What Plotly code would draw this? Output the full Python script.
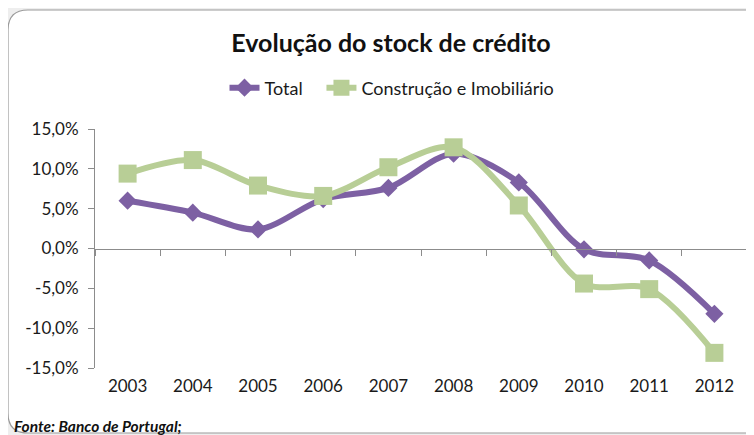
import plotly.graph_objects as go

years = ["2003", "2004", "2005", "2006", "2007", "2008", "2009", "2010", "2011", "2012"]
total = [6.0, 4.5, 2.4, 6.2, 7.6, 11.9, 8.3, -0.1, -1.5, -8.2]
construcao = [9.4, 11.1, 7.9, 6.6, 10.2, 12.7, 5.4, -4.4, -5.1, -13.1]
y_ticks = [-15, -10, -5, 0, 5, 10, 15]
y_ticktext = ["-15,0%", "-10,0%", "-5,0%", "0,0%", "5,0%", "10,0%", "15,0%"]

PURPLE = "#7D60A3"
GREEN = "#B8CE96"
FONT = "Lato"

OFF = 8  # page body margin offset
W, H = 754 - OFF, 435 - OFF
L, R, T = 95 - OFF, 7, 129 - OFF
B = H - (368 - OFF)
pw, ph = W - L - R, H - T - B

def px(x):
    return (x - OFF - L) / pw

def py(y):
    return (H - B - (y - OFF)) / ph

fig = go.Figure()
fig.add_trace(go.Scatter(
    x=years, y=total, name="Total\u00a0\u00a0\u00a0", mode="lines+markers",
    line=dict(color=PURPLE, width=6, shape="spline", smoothing=0.9),
    marker=dict(symbol="diamond", size=14, color=PURPLE),
))
fig.add_trace(go.Scatter(
    x=years, y=construcao, name="Construção e Imobiliário", mode="lines+markers",
    line=dict(color=GREEN, width=6, shape="spline", smoothing=0.9),
    marker=dict(symbol="square", size=18, color=GREEN),
))
# invisible trace to carry the bottom category labels axis
fig.add_trace(go.Scatter(
    x=years, y=total, xaxis="x2", mode="markers", showlegend=False,
    marker=dict(opacity=0), hoverinfo="skip",
))

# card shape
x0, x1 = px(8), px(770)
y0, y1 = py(433), py(10)
rx, ry = 20 / pw, 20 / ph
path = (f"M {x1},{y1} L {x0+rx},{y1} Q {x0},{y1} {x0},{y1-ry} "
        f"L {x0},{y0+ry} Q {x0},{y0} {x0+rx},{y0} L {x1},{y0} Z")

fig.update_layout(
    width=W, height=H,
    margin=dict(l=L, r=R, t=T, b=B),
    paper_bgcolor="#EEEEEE",
    plot_bgcolor="rgba(0,0,0,0)",
    font=dict(family=FONT, size=14, color="#1A1A1A"),
    title=dict(text="<b>Evolução do stock de crédito</b>", x=(391 - OFF) / W, xref="container",
               y=1 - (43 - OFF) / H, yref="container", xanchor="center", yanchor="middle",
               font=dict(family=FONT, size=25, color="#111111")),
    legend=dict(orientation="h", x=px(392), xanchor="center", y=py(88), yanchor="middle",
                font=dict(family=FONT, size=18, color="#1A1A1A"), bgcolor="rgba(0,0,0,0)",
                tracegroupgap=0),
    showlegend=True,
    shapes=[dict(type="path", path=path, xref="paper", yref="paper",
                 fillcolor="white", line=dict(color="#9A9A9A", width=1.2), layer="below")],
    xaxis=dict(type="category", categoryorder="array", categoryarray=years,
               anchor="free", position=0.5, showline=True, linecolor="#8C8C8C", linewidth=1,
               ticks="outside", tickson="boundaries", ticklen=6, tickcolor="#8C8C8C",
               showticklabels=False, showgrid=False, zeroline=False, range=[-0.5, 9.5]),
    xaxis2=dict(type="category", categoryorder="array", categoryarray=years,
                overlaying="x", matches="x", anchor="y", side="bottom",
                showline=False, ticks="", showgrid=False, ticklabelstandoff=6,
                tickfont=dict(family=FONT, size=17, color="#1A1A1A")),
    yaxis=dict(range=[-15, 15], tickvals=y_ticks, ticktext=y_ticktext,
               showline=True, linecolor="#8C8C8C", linewidth=1,
               ticks="outside", ticklen=6, tickcolor="#8C8C8C", ticklabelstandoff=6,
               showgrid=False, zeroline=False,
               tickfont=dict(family=FONT, size=17, color="#1A1A1A")),
    annotations=[dict(text="<b><i>Fonte: Banco de Portugal;</i></b>", xref="paper", yref="paper",
                      x=px(12), y=py(426), xanchor="left", yanchor="middle", showarrow=False,
                      font=dict(family=FONT, size=15.5, color="#111111"))],
)

fig.write_html("out.html")
